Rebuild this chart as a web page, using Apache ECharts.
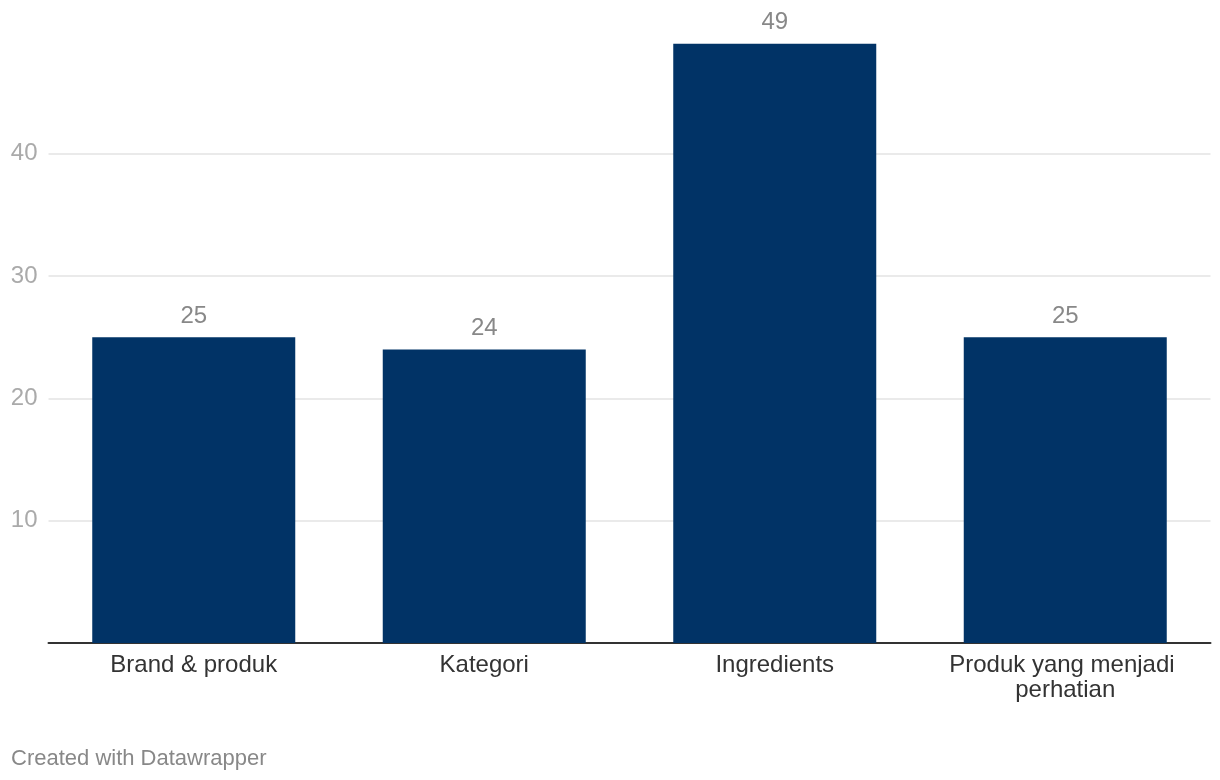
<!DOCTYPE html>
<html>
<head>
<meta charset="utf-8">
<script src="https://cdn.jsdelivr.net/npm/echarts@6/dist/echarts.min.js"></script>
<style>
    html, body { margin: 0; padding: 0; background: #fff; }
    #chart { width: 1220px; height: 780px; }
</style>
</head>
<body>
<div id="chart"></div>
<script>
const categories = ['Brand & produk', 'Kategori', 'Ingredients', 'Produk yang menjadi perhatian']
const values = [25, 24, 49, 25]
const footer = 'Created with Datawrapper'

const font = '"Liberation Sans", Arial, Helvetica, sans-serif'

const chart = echarts.init(document.getElementById('chart'))
const option = {
    animation: false,
    grid: {
        left: 48.5,
        right: 9.5,
        top: 31.5,
        bottom: 137,
        containLabel: false
    },
    xAxis: {
        type: 'category',
        data: categories,
        axisLine: {
            show: true,
            lineStyle: { color: '#333', width: 2 }
        },
        axisTick: { show: false },
        axisLabel: {
            interval: 0,
            color: '#333',
            fontSize: 24,
            fontFamily: font,
            lineHeight: 25,
            margin: 10,
            width: 260,
            overflow: 'break'
        }
    },
    yAxis: {
        type: 'value',
        min: 0,
        max: 50,
        interval: 10,
        axisLine: { show: false },
        axisTick: { show: false },
        axisLabel: {
            showMinLabel: false,
            showMaxLabel: false,
            color: '#aaa',
            fontSize: 24,
            fontFamily: font,
            margin: 11
        },
        splitLine: {
            show: true,
            showMinLine: false,
            showMaxLine: false,
            lineStyle: { color: '#e3e3e3', width: 1.5 }
        }
    },
    series: [
        {
            type: 'bar',
            data: values,
            barWidth: 203,
            itemStyle: { color: '#013366' },
            label: {
                show: true,
                position: 'top',
                distance: 9,
                color: '#888',
                fontSize: 24,
                fontFamily: font
            }
        }
    ],
    graphic: [
        {
            type: 'text',
            left: 11,
            top: 748,
            style: {
                text: footer,
                fill: '#888',
                fontSize: 22,
                fontFamily: font
            }
        }
    ]
}
chart.setOption(option)
</script>
</body>
</html>
